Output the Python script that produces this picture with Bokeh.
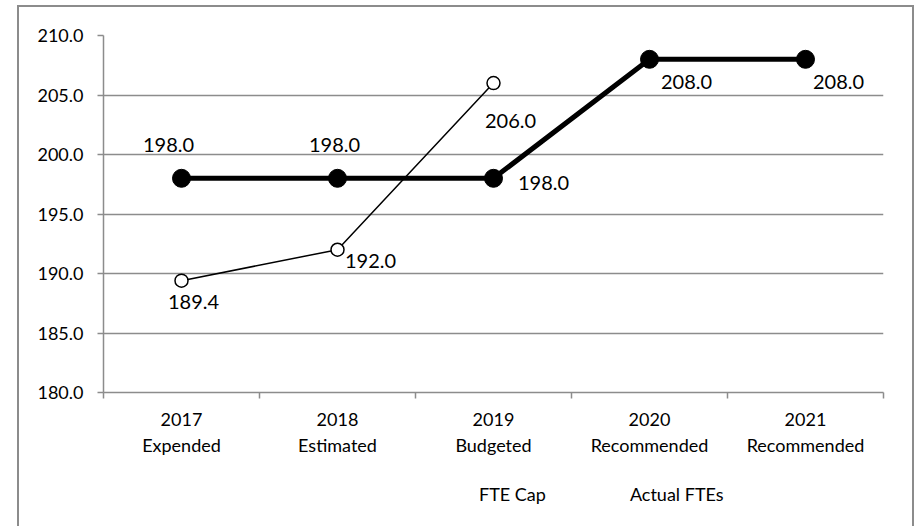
from bokeh.plotting import figure
from bokeh.layouts import column
from bokeh.models import (FixedTicker, PrintfTickFormatter, Range1d, Legend,
                          LegendItem, ColumnDataSource, InlineStyleSheet)
from bokeh.core.properties import value
from bokeh.embed import file_html
from bokeh.resources import INLINE

# ---- data ----
categories = ["2017\nExpended", "2018\nEstimated", "2019\nBudgeted",
              "2020\nRecommended", "2021\nRecommended"]
fte_cap = [198.0, 198.0, 198.0, 208.0, 208.0]
actual_ftes = [189.4, 192.0, 206.0]
y_ticks = [180, 185, 190, 195, 200, 205, 210]
series_names = ["FTE Cap", "Actual FTEs"]

# ---- label placement (screen px, layout only) ----
cap_dx = [-13, -3, 50, 37, 33]
cap_dy = [-33, -33, 5, 23, 23]
act_dx = [12, 33, 17]
act_dy = [21, 11, 38]

FONT = "Lato"
GRAY = "#8c8c8c"

xpos = [i + 0.5 for i in range(len(categories))]

chart = figure(frame_width=780, frame_height=357,
               output_backend="svg", toolbar_location=None,
               x_range=Range1d(0, len(categories)), y_range=Range1d(y_ticks[0], y_ticks[-1]),
               min_border_left=103, min_border_right=39, min_border_top=35,
               min_border_bottom=72)
chart.outline_line_color = None
chart.background_fill_color = "white"
chart.border_fill_color = "white"

# y axis
chart.yaxis.ticker = FixedTicker(ticks=y_ticks)
chart.yaxis.formatter = PrintfTickFormatter(format="%.1f")
chart.yaxis.axis_line_color = GRAY
chart.yaxis.axis_line_width = 1.5
chart.yaxis.major_tick_line_color = GRAY
chart.yaxis.major_tick_line_width = 1.5
chart.yaxis.major_tick_out = 6
chart.yaxis.major_tick_in = 0
chart.yaxis.minor_tick_line_color = None
chart.yaxis.major_label_standoff = 14
chart.yaxis.major_label_text_font = FONT
chart.yaxis.major_label_text_font_size = "18px"
chart.yaxis.major_label_text_color = "black"

# x axis
chart.xaxis.ticker = FixedTicker(ticks=xpos, minor_ticks=list(range(len(categories) + 1)))
chart.xaxis.major_label_overrides = {x: c for x, c in zip(xpos, categories)}
chart.xaxis.axis_line_color = GRAY
chart.xaxis.axis_line_width = 1.5
chart.xaxis.major_tick_line_color = None
chart.xaxis.major_tick_out = 6
chart.xaxis.minor_tick_line_color = GRAY
chart.xaxis.minor_tick_line_width = 1.5
chart.xaxis.minor_tick_out = 6
chart.xaxis.minor_tick_in = 0
chart.xaxis.major_label_standoff = 9
chart.xaxis.major_label_text_font = FONT
chart.xaxis.major_label_text_font_size = "18px"
chart.xaxis.major_label_text_color = "black"
chart.xaxis.major_label_text_line_height = 1.2

chart.xgrid.grid_line_color = None
chart.ygrid.ticker = FixedTicker(ticks=y_ticks)
chart.ygrid.grid_line_color = GRAY
chart.ygrid.grid_line_width = 1.5

# series
cap_src = ColumnDataSource(dict(x=xpos, y=fte_cap,
                                t=["%.1f" % v for v in fte_cap], dx=cap_dx, dy=cap_dy))
act_src = ColumnDataSource(dict(x=xpos[:len(actual_ftes)], y=actual_ftes,
                                t=["%.1f" % v for v in actual_ftes], dx=act_dx, dy=act_dy))

CAP_LINE = dict(line_color="black", line_width=5)
CAP_MARK = dict(fill_color="black", line_color="black")
ACT_LINE = dict(line_color="black", line_width=1.5)
ACT_MARK = dict(fill_color="white", line_color="black", line_width=1.5)

chart.line("x", "y", source=cap_src, **CAP_LINE)
chart.scatter("x", "y", source=cap_src, size=18, **CAP_MARK)
chart.line("x", "y", source=act_src, **ACT_LINE)
chart.scatter("x", "y", source=act_src, size=13, **ACT_MARK)

for src in (cap_src, act_src):
    chart.text("x", "y", text="t", source=src, x_offset="dx", y_offset="dy",
               text_align="center", text_baseline="middle",
               text_font=value(FONT), text_font_size="20px", text_color="black")

# ---- legend strip (separate figure under the chart) ----
leg = figure(width=922, height=526 - (35 + 357 + 72), output_backend="svg",
             toolbar_location=None, x_axis_location=None, y_axis_location=None,
             x_range=Range1d(0, 1), y_range=Range1d(0, 1), min_border=0)
leg.outline_line_color = None
leg.xgrid.grid_line_color = None
leg.ygrid.grid_line_color = None
leg.background_fill_color = "white"
leg.border_fill_color = "white"

empty = dict(x=[], y=[])
l_cap_line = leg.line(x="x", y="y", source=ColumnDataSource(empty), **CAP_LINE)
l_cap_pts = leg.scatter(x="x", y="y", source=ColumnDataSource(empty), **CAP_MARK)
l_act_line = leg.line(x="x", y="y", source=ColumnDataSource(empty), **ACT_LINE)
l_act_pts = leg.scatter(x="x", y="y", source=ColumnDataSource(empty), **ACT_MARK)

legend = Legend(items=[LegendItem(label=series_names[0], renderers=[l_cap_line, l_cap_pts]),
                       LegendItem(label=series_names[1], renderers=[l_act_line, l_act_pts])],
                location=(319, 16), orientation="horizontal",
                glyph_width=50, glyph_height=32, label_standoff=7, spacing=27,
                padding=0, margin=0, border_line_alpha=0, background_fill_alpha=0,
                label_text_font=FONT, label_text_font_size="18px",
                label_text_color="black")
leg.add_layout(legend, "center")

p = column(chart, leg, spacing=0)

# outer chart border (left, top, right edges)
p.stylesheets = [InlineStyleSheet(css="""
:host { position: relative; }
:host::after {
  content: ""; position: absolute; left: 17px; top: 5px; width: 897px; height: 521px;
  box-sizing: border-box; border: 2px solid #8c8c8c; border-bottom: none;
  pointer-events: none; z-index: 10;
}
""")]

open("out.html", "w").write(file_html(p, INLINE))
